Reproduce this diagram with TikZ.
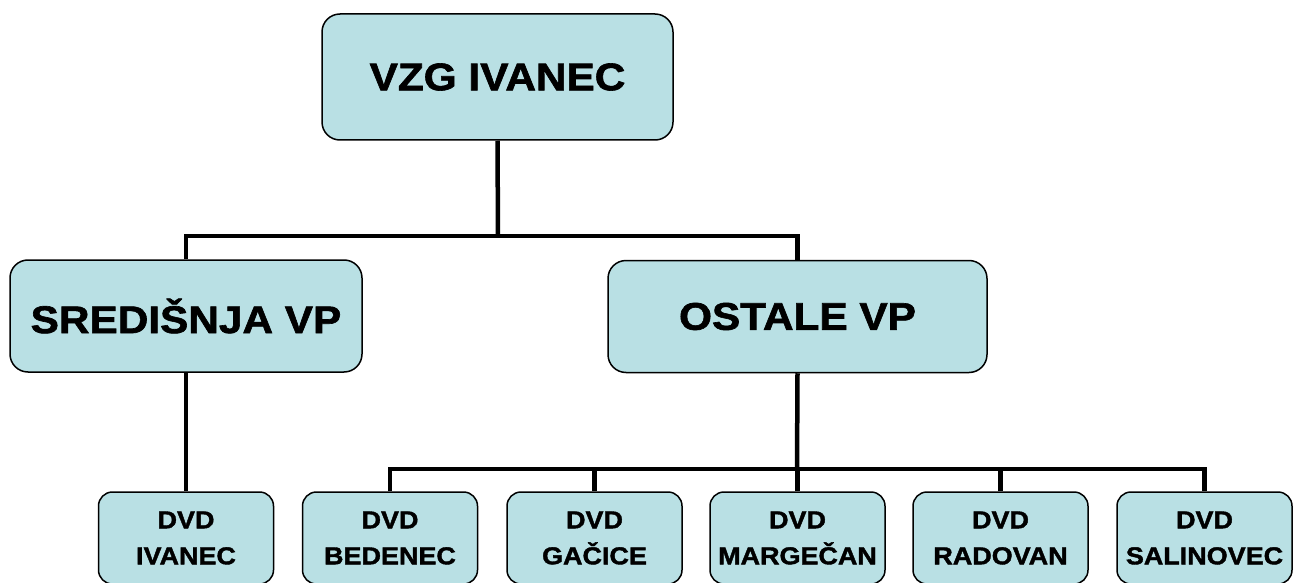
\documentclass[tikz,border=0pt]{standalone}
\usepackage{fontspec}
\setmainfont{Liberation Sans}
\newfontfamily\debeli{Liberation Sans Bold}[FakeBold=1.6, FakeStretch=1.1]
\usepackage{tikz}
\definecolor{plava}{HTML}{B9E0E4}

\begin{document}
\begin{tikzpicture}[x=1pt, y=-1pt,
  okvir/.style={draw=black, line width=1.5pt, fill=plava, rounded corners=18pt,
    inner sep=0pt, align=center},
  glavni/.style={okvir, minimum width=351pt, minimum height=126pt, font=\debeli\fontsize{38.5}{44}\selectfont},
  vp/.style={okvir, minimum height=112pt, font=\debeli\fontsize{38.5}{44}\selectfont},
  dvd/.style={okvir, rounded corners=14pt, minimum width=175pt, minimum height=92pt,
    font=\debeli\fontsize{24.5}{36}\selectfont},
  veza/.style={line width=4.5pt}]
\useasboundingbox (0,0) rectangle (1301,583);
\clip (0,0) rectangle (1301,583);
\coordinate (busA) at (498,236);
\coordinate (busB) at (797,469);
\node[glavni] (vzg) at (497.5,77) {VZG IVANEC};
\node[vp, minimum width=352pt] (sred) at (186,316) {SREDIŠNJA VP};
\node[vp, minimum width=379pt] (ostale) at (797.5,316.5) {OSTALE VP};
\node[dvd] (ivanec) at (186,538) {DVD\\IVANEC};
\node[dvd] (bedenec) at (390,538) {DVD\\BEDENEC};
\node[dvd] (gacice) at (594.5,538) {DVD\\GAČICE};
\node[dvd] (margecan) at (797.5,538) {DVD\\MARGEČAN};
\node[dvd] (radovan) at (1000.5,538) {DVD\\RADOVAN};
\node[dvd] (salinovec) at (1204.5,538) {DVD\\SALINOVEC};
% connectors
\draw[veza] (vzg.south) -- (busA);
\draw[veza] (sred.north) |- (busA);
\draw[veza] (ostale.north) |- (busA);
\draw[veza] (sred.south) -- (ivanec.north);
\draw[veza] (ostale.south) -- (busB);
\foreach \dom in {bedenec, gacice, margecan, radovan, salinovec}
  \draw[veza] (\dom.north) |- (busB);
\end{tikzpicture}
\end{document}
